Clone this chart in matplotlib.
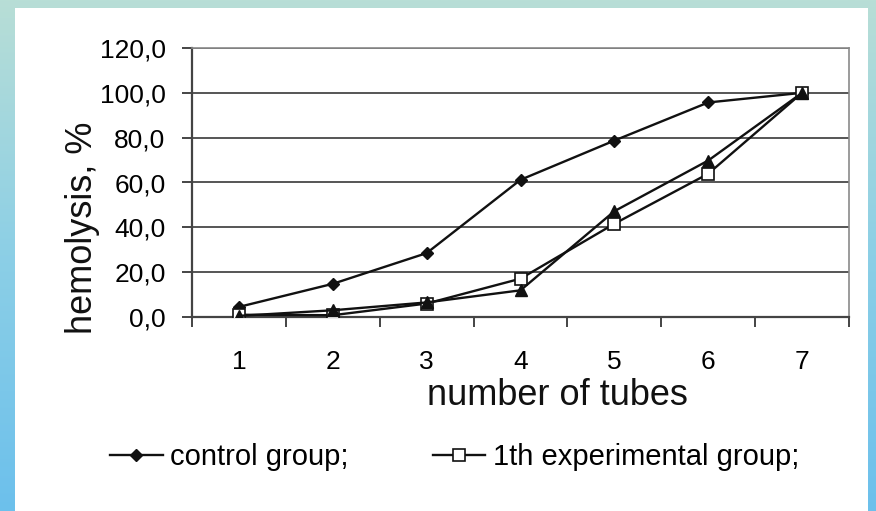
import numpy as np
import matplotlib
matplotlib.use("Agg")
import matplotlib.pyplot as plt
from matplotlib.patches import Rectangle
from matplotlib.colors import LinearSegmentedColormap

tubes = [1, 2, 3, 4, 5, 6, 7]
control = [4.5, 14.8, 28.5, 61.2, 78.7, 95.7, 100.0]
exp1 = [1.0, 0.8, 6.0, 17.1, 41.6, 63.9, 100.0]
exp2 = [0.5, 3.0, 6.5, 11.9, 47.2, 69.8, 100.0]
yticks = [0, 20, 40, 60, 80, 100, 120]
ytick_labels = ["0,0", "20,0", "40,0", "60,0", "80,0", "100,0", "120,0"]

plt.rcParams['font.family'] = ['Liberation Sans', 'DejaVu Sans']

W, H = 876, 511


def main():
    fig = plt.figure(figsize=(W / 100, H / 100), dpi=100)

    # blue/teal frame and white panel
    bg = fig.add_axes([0, 0, 1, 1], zorder=-10)
    cmap = LinearSegmentedColormap.from_list("frame", ["#b8ded6", "#8ccfe6", "#6cc0ec"])
    bg.imshow(np.linspace(0, 1, 256).reshape(-1, 1), cmap=cmap, aspect='auto',
              extent=[0, W, H, 0])
    bg.add_patch(Rectangle((15, 8), 853, 503, facecolor='white', edgecolor='none'))
    bg.set_xlim(0, W)
    bg.set_ylim(H, 0)
    bg.axis('off')

    left, right, top, bottom = 192, 849, 48, 317
    ax = fig.add_axes([left / W, 1 - bottom / H, (right - left) / W, (bottom - top) / H])
    ax.set_facecolor('none')

    lc = '#111111'
    ax.plot(tubes, control, color=lc, lw=1.7, marker='D', ms=6.5,
            mfc=lc, mec=lc, label='control group;', zorder=2)
    ax.plot(tubes, exp1, color=lc, lw=1.7, marker='s', ms=9,
            mfc='white', mec=lc, mew=1.2, label='1th experimental group;', zorder=3)
    ax.plot(tubes, exp2, color=lc, lw=1.7, marker='^', ms=8.5,
            mfc=lc, mec=lc, label='2th experimental group;', zorder=4)

    ax.set_xlim(0.5, 7.5)
    ax.set_ylim(0, 120)
    ax.set_yticks(yticks)
    ax.set_yticklabels(ytick_labels)
    ax.yaxis.grid(True, color='#555555', lw=1.4)
    ax.set_axisbelow(True)

    ax.set_xticks(tubes)
    ax.set_xticks(np.arange(0.5, 8, 1), minor=True)
    ax.tick_params(axis='x', which='major', length=0, pad=24, labelsize=19)
    ax.tick_params(axis='x', which='minor', length=7, width=1.4, color='#444444')
    ax.tick_params(axis='y', length=7, width=1.4, color='#444444', pad=12, labelsize=19)

    for s in ['left', 'bottom']:
        ax.spines[s].set_color('#444444')
        ax.spines[s].set_linewidth(1.6)
    for s in ['top', 'right']:
        ax.spines[s].set_color('#8a8a8a')
        ax.spines[s].set_linewidth(1.2)

    fig.text(557 / W, 1 - 405 / H, 'number of tubes', fontsize=26,
             ha='center', va='baseline', color='#111111')
    fig.text(83 / W, 1 - 228 / H, 'hemolysis, %', fontsize=26, rotation=90,
             ha='center', va='center', color='#111111')

    handles, labels = ax.get_legend_handles_labels()
    fig.legend(handles[:2], labels[:2],
               loc='center left', bbox_to_anchor=(110 / W, 1 - 457 / H),
               ncol=2, frameon=False, fontsize=21, handlelength=1.8,
               handletextpad=0.25, columnspacing=2.9, borderpad=0,
               borderaxespad=0, markerscale=0.9)

    fig.savefig('out.png', dpi=100)


if __name__ == "__main__":
    main()
